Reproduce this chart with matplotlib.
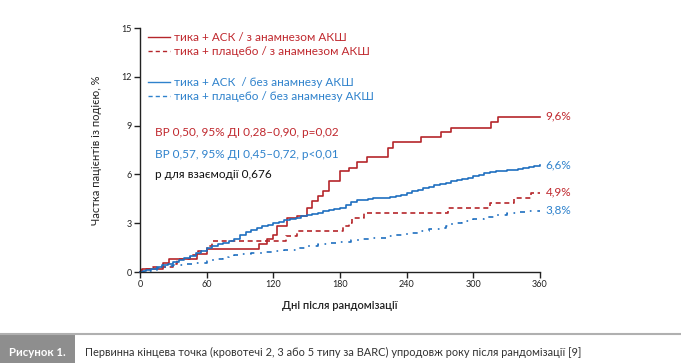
import matplotlib
matplotlib.use("Agg")
import matplotlib.pyplot as plt
from matplotlib.lines import Line2D
from matplotlib.patches import Rectangle

# ---------------- data ----------------
red_solid_days = [0, 2, 21, 26, 51, 60, 107, 114, 120, 123, 132, 141, 150, 155, 160, 165, 170, 180,
                  188, 195, 204, 223, 228, 253, 271, 280, 316, 322, 360]
red_solid_vals = [0, 0.2, 0.53, 0.82, 1.08, 1.4, 1.7, 2.0, 2.3, 2.85, 3.3, 3.45, 3.95, 4.35, 4.65, 4.96,
                  5.58, 6.2, 6.4, 6.75, 7.1, 7.62, 7.97, 8.27, 8.58, 8.88, 9.2, 9.55, 9.55]

red_dash_days = [0, 2, 12, 30, 33, 45, 52, 60, 65, 131, 141, 183, 188, 191, 202, 277, 315, 337, 352, 360]
red_dash_vals = [0, 0.2, 0.3, 0.5, 0.8, 1.05, 1.3, 1.6, 1.9, 2.2, 2.5, 2.82, 3.0, 3.33, 3.64, 3.95,
                 4.26, 4.52, 4.83, 4.83]

blue_solid_days = [0, 3, 5, 10, 15, 20, 25, 30, 35, 40, 45, 50, 55, 60, 65, 70, 75, 80, 85, 90, 95,
                   100, 105, 110, 115, 120, 125, 130, 135, 140, 145, 150, 155, 160, 165, 170, 175,
                   180, 185, 190, 195, 200, 205, 210, 215, 220, 225, 230, 235, 240, 245, 250, 255,
                   260, 265, 270, 275, 280, 285, 290, 295, 300, 305, 310, 315, 320, 325, 330, 335,
                   340, 345, 350, 355, 360]
blue_solid_vals = [0, 0.05, 0.1, 0.2, 0.3, 0.4, 0.5, 0.6, 0.72, 0.85, 1.0, 1.15, 1.3, 1.5, 1.6, 1.7,
                   1.8, 1.9, 2.05, 2.25, 2.45, 2.6, 2.7, 2.8, 2.9, 3.0, 3.1, 3.2, 3.28, 3.35, 3.42,
                   3.5, 3.58, 3.65, 3.72, 3.8, 3.88, 3.95, 4.1, 4.3, 4.4, 4.45, 4.5, 4.52, 4.55,
                   4.57, 4.6, 4.65, 4.75, 4.85, 4.95, 5.05, 5.15, 5.25, 5.35, 5.42, 5.5, 5.58, 5.64,
                   5.7, 5.78, 5.88, 5.98, 6.08, 6.13, 6.18, 6.22, 6.26, 6.3, 6.35, 6.4, 6.45, 6.52,
                   6.58]

blue_dash_days = [0, 5, 10, 15, 20, 25, 30, 40, 50, 60, 65, 70, 75, 80, 85, 90, 100, 110, 120, 130,
                  140, 150, 160, 170, 180, 190, 200, 208, 216, 223, 230, 240, 250, 260, 270, 275,
                  280, 285, 290, 300, 310, 320, 330, 340, 350, 360]
blue_dash_vals = [0, 0.08, 0.15, 0.22, 0.3, 0.35, 0.4, 0.5, 0.55, 0.65, 0.72, 0.8, 0.9, 1.0, 1.05,
                  1.08, 1.15, 1.2, 1.3, 1.38, 1.5, 1.6, 1.7, 1.78, 1.85, 1.95, 2.02, 2.06, 2.1, 2.2,
                  2.3, 2.42, 2.55, 2.62, 2.72, 2.82, 2.93, 3.02, 3.12, 3.25, 3.38, 3.5, 3.6, 3.68,
                  3.73, 3.78]

x_ticks = [0, 60, 120, 180, 240, 300, 360]
y_ticks = [0, 3, 6, 9, 12, 15]

end_labels = ["9,6%", "6,6%", "4,9%", "3,8%"]
end_values = [9.6, 6.6, 4.9, 3.8]

legend_labels = ["тика + АСК / з анамнезом АКШ",
                 "тика + плацебо / з анамнезом АКШ",
                 "тика + АСК  / без анамнезу АКШ",
                 "тика + плацебо / без анамнезу АКШ"]
stat_texts = ["ВР 0,50, 95% ДІ 0,28–0,90, p=0,02",
              "ВР 0,57, 95% ДІ 0,45–0,72, p<0,01",
              "р для взаємодії 0,676"]

# ---------------- style ----------------
FONT = "Lato"
plt.rcParams['font.family'] = [FONT, 'DejaVu Sans']
RED = "#b5262b"
RED_T = "#c0282e"
BLUE = "#1f6fc0"
BLUE_T = "#2f82cc"

fig = plt.figure(figsize=(6.81, 3.63), dpi=100)
ax = fig.add_axes([140/681, 1-272/363, 400/681, 244/363])

ax.plot(red_solid_days, red_solid_vals, drawstyle='steps-post', color=RED, lw=1.2)
ax.plot(red_dash_days, red_dash_vals, drawstyle='steps-post', color=RED, lw=1.2, dashes=(3, 2.2))
ax.plot(blue_solid_days, blue_solid_vals, drawstyle='steps-post', color=BLUE, lw=1.2)
ax.plot(blue_dash_days, blue_dash_vals, drawstyle='steps-post', color=BLUE, lw=1.2, dashes=(3, 3.5, 1, 3.5))

ax.set_xlim(0, 360)
ax.set_ylim(0, 15)
ax.set_xticks(x_ticks)
ax.set_yticks(y_ticks)
for s in ['top', 'right']:
    ax.spines[s].set_visible(False)
for s in ['left', 'bottom']:
    ax.spines[s].set_linewidth(1.0)
    ax.spines[s].set_color('#222222')
ax.tick_params(axis='both', length=4, width=1.0, labelsize=6.5, pad=2, colors='#222222')
for ln in ax.lines:
    ln.set_clip_on(False)

ax.set_xlabel("Дні після рандомізації", fontsize=8, fontweight='semibold', labelpad=8, color='#222222')
ax.set_ylabel("Частка пацієнтів із подією, %", fontsize=8, labelpad=14, color='#222222')

# legends
h_red = [Line2D([], [], color=RED, lw=1.0),
         Line2D([], [], color=RED, lw=1.0, dashes=(3, 2.2))]
h_blue = [Line2D([], [], color=BLUE_T, lw=1.0),
          Line2D([], [], color=BLUE_T, lw=1.0, dashes=(3, 2.2))]
leg1 = ax.legend(h_red, legend_labels[:2], loc='upper left', bbox_to_anchor=(0.02, 0.985),
                 frameon=False, fontsize=8.5, handlelength=1.9, handletextpad=0.3,
                 labelspacing=0.3, borderaxespad=0, borderpad=0)
for t in leg1.get_texts():
    t.set_color(RED_T)
ax.add_artist(leg1)
leg2 = ax.legend(h_blue, legend_labels[2:], loc='upper left', bbox_to_anchor=(0.02, 0.80),
                 frameon=False, fontsize=8.5, handlelength=1.9, handletextpad=0.3,
                 labelspacing=0.3, borderaxespad=0, borderpad=0)
for t in leg2.get_texts():
    t.set_color(BLUE_T)

# stats text
ax.text(15/400*360, 8.6, stat_texts[0], color=RED_T, fontsize=8.5, va='center')
ax.text(15/400*360, 7.25, stat_texts[1], color=BLUE_T, fontsize=8.5, va='center')
ax.text(15/400*360, 6.0, stat_texts[2], color='#111111', fontsize=8.5, va='center')

# end labels
end_colors = [RED_T, BLUE_T, RED_T, BLUE_T]
for lab, v, c in zip(end_labels, end_values, end_colors):
    ax.text(365, v, lab, color=c, fontsize=8.5, va='center', ha='left')

# caption
fig.add_artist(Line2D([0, 1], [1-334/363, 1-334/363], color='#b0b0b0', lw=1.5, transform=fig.transFigure))
fig.add_artist(Rectangle((0, 0), 75/681, 1-335/363, transform=fig.transFigure,
                         facecolor='#8e8e8e', edgecolor='none'))
fig.text(37/681, 1-352/363, "Рисунок 1.", color='white', fontsize=8.2, fontweight='bold',
         ha='center', va='center')
fig.text(85/681, 1-352/363,
         "Первинна кінцева точка (кровотечі 2, 3 або 5 типу за BARC) упродовж року після рандомізації [9]",
         color='#333333', fontsize=7.9, ha='left', va='center')

fig.savefig("out.png", dpi=100)
